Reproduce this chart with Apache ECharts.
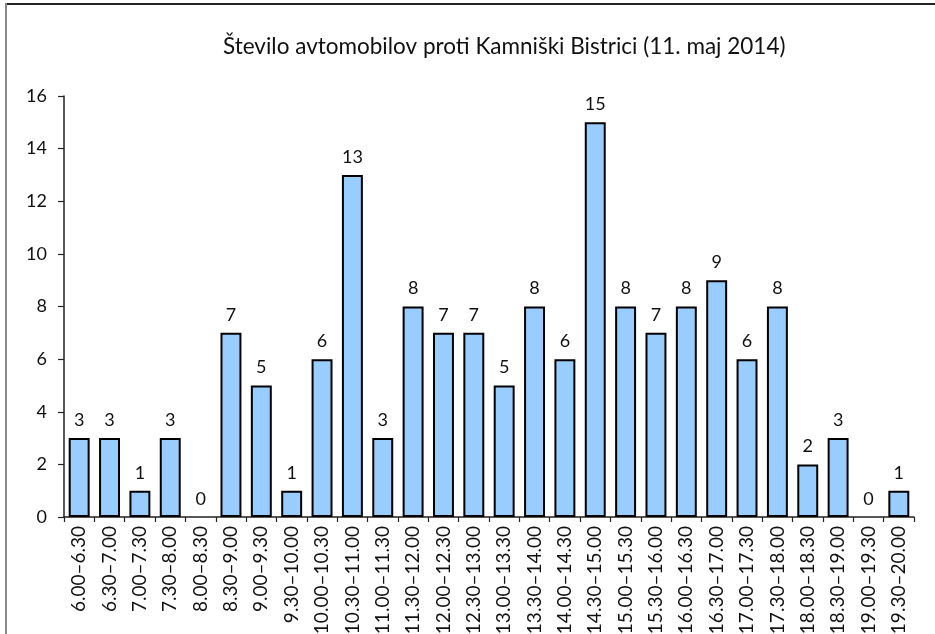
<!DOCTYPE html>
<html><head><meta charset="utf-8">
<script src="https://cdn.jsdelivr.net/npm/echarts@6/dist/echarts.min.js"></script>
<style>html,body{margin:0;padding:0;background:#fff}#c{width:935px;height:634px}</style>
</head><body><div id="c"></div>
<script>
const title = 'Število avtomobilov proti Kamniški Bistrici (11. maj 2014)';
const categories = ['6.00–6.30','6.30–7.00','7.00–7.30','7.30–8.00','8.00–8.30','8.30–9.00','9.00–9.30','9.30–10.00','10.00–10.30','10.30–11.00','11.00–11.30','11.30–12.00','12.00–12.30','12.30–13.00','13.00–13.30','13.30–14.00','14.00–14.30','14.30–15.00','15.00–15.30','15.30–16.00','16.00–16.30','16.30–17.00','17.00–17.30','17.30–18.00','18.00–18.30','18.30–19.00','19.00–19.30','19.30–20.00'];
const values = [3,3,1,3,0,7,5,1,6,13,3,8,7,7,5,8,6,15,8,7,8,9,6,8,2,3,0,1];
const yTicks = {min:0, max:16, interval:2};

const font = 'Lato, "Noto Sans", sans-serif';
const chart = echarts.init(document.getElementById('c'), null, {renderer:'canvas'});
chart.setOption({
  animation:false,
  title:{text:title, left:218, top:30, textStyle:{fontFamily:font, fontSize:22.5, fontWeight:'normal', color:'#111'}},
  grid:{left:64, right:21, top:96, bottom:117, containLabel:false, outerBoundsMode:'none'},
  xAxis:{type:'category', data:categories,
    axisLine:{lineStyle:{color:'#222', width:1.5}},
    axisTick:{show:true, alignWithLabel:false, length:5, lineStyle:{color:'#222', width:1.2}},
    axisLabel:{rotate:90, interval:0, margin:9, fontFamily:font, fontSize:19, color:'#111'}},
  yAxis:{type:'value', min:yTicks.min, max:yTicks.max, interval:yTicks.interval,
    splitLine:{show:false},
    axisLine:{show:true, lineStyle:{color:'#222', width:1.5}},
    axisTick:{show:true, length:6, lineStyle:{color:'#222', width:1.2}},
    axisLabel:{margin:17, fontFamily:font, fontSize:18, color:'#111'}},
  series:[{type:'bar', barWidth:'69%',
    data:values.map(v => v === 0 ? {value:v, itemStyle:{borderWidth:0}} : v),
    itemStyle:{color:'#99ccff', borderColor:'#000', borderWidth:2},
    label:{show:true, position:'top', distance:9, fontFamily:font, fontSize:18, color:'#111'}}],
  graphic:[
    {type:'line', shape:{x1:5, y1:4, x2:935, y2:4}, style:{stroke:'#222', lineWidth:2}},
    {type:'line', shape:{x1:6, y1:3, x2:6, y2:634}, style:{stroke:'#888', lineWidth:2}}
  ]
});
</script></body></html>
